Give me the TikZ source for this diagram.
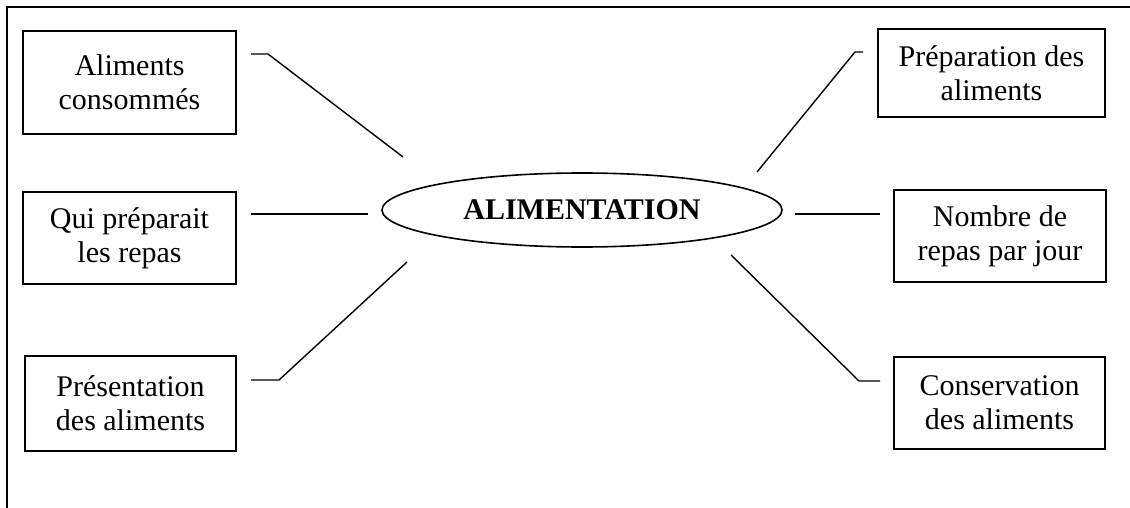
\documentclass[tikz,border=0pt]{standalone}
\usepackage{fontspec}
\setmainfont{Liberation Serif}
\usetikzlibrary{shapes.geometric}
\tikzset{
  topic/.style={draw, line width=1.6pt, inner sep=0pt, outer sep=0pt, align=center,
    font=\fontsize{30}{34}\selectfont},
  hub/.style={draw, ellipse, line width=1.6pt, inner sep=0pt, outer sep=0pt,
    minimum width=400pt, minimum height=74pt, font=\fontsize{30}{34}\selectfont\bfseries},
  link/.style={line width=1.4pt},
  frame/.style={line width=1.4pt}
}
\begin{document}
\begin{tikzpicture}[x=1pt,y=-1pt]
\useasboundingbox (0,0) rectangle (1130,508);
\draw[frame] (7,508) -- (7,7) -- (1130,7);

\node[hub] (c) at (582,210) {ALIMENTATION};

\node[topic, minimum width=213pt, minimum height=103pt] (tl) at (129.5,82.5) {Aliments\\consommés};
\node[topic, minimum width=213pt, minimum height=92pt] (ml) at (129.5,238) {Qui préparait\\les repas};
\node[topic, minimum width=211pt, minimum height=95pt] (bl) at (130.5,403.5) {Présentation\\des aliments};
\node[topic, minimum width=227pt, minimum height=88pt] (tr) at (991.5,73) {Préparation des\\aliments};
\node[topic, minimum width=212pt, minimum height=92pt] (mr) at (1000,236) {Nombre de\\repas par jour};
\node[topic, minimum width=211pt, minimum height=92pt] (br) at (999.5,403) {Conservation\\des aliments};

\coordinate (tl1) at (251,54);  \coordinate (tl2) at (268,54);  \coordinate (tl3) at (403,157);
\coordinate (ml1) at (251,214); \coordinate (ml2) at (368,214);
\coordinate (bl1) at (251,380); \coordinate (bl2) at (279,380); \coordinate (bl3) at (407,262);
\coordinate (tr1) at (863,52);  \coordinate (tr2) at (855,52);  \coordinate (tr3) at (757,172);
\coordinate (mr1) at (880,214); \coordinate (mr2) at (795,214);
\coordinate (br1) at (880,381); \coordinate (br2) at (859,381); \coordinate (br3) at (731,255);

\draw[link] (tl1) -- (tl2) -- (tl3);
\draw[link] (ml1) -- (ml2);
\draw[link] (bl1) -- (bl2) -- (bl3);
\draw[link] (tr1) -- (tr2) -- (tr3);
\draw[link] (mr1) -- (mr2);
\draw[link] (br1) -- (br2) -- (br3);
\end{tikzpicture}
\end{document}
